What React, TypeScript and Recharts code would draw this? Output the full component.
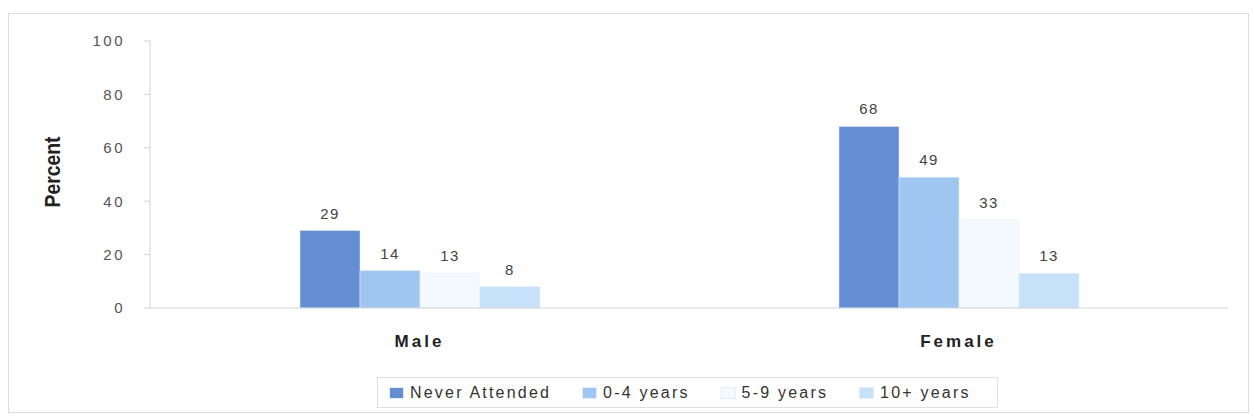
import { Bar, BarChart, LabelList, XAxis, YAxis } from "recharts"

const categories = ["Male", "Female"]
const neverAttended = [29, 68]
const years0to4 = [14, 49]
const years5to9 = [13, 33]
const years10plus = [8, 13]
const yTicks = [0, 20, 40, 60, 80, 100]

const series = [
  { key: "never", name: "Never Attended", color: "#648ed4", values: neverAttended },
  { key: "y04", name: "0-4 years", color: "#9fc5f1", values: years0to4 },
  { key: "y59", name: "5-9 years", color: "#f3f9fe", values: years5to9 },
  { key: "y10", name: "10+ years", color: "#c7e1f8", values: years10plus },
]

const data = categories.map((cat, i) => {
  const row: Record<string, string | number> = { cat }
  series.forEach((s) => {
    row[s.key] = s.values[i]
  })
  return row
})

const font = "'Liberation Sans', Arial, sans-serif"

const App = () => {
  return (
    <div
      style={{
        position: "absolute",
        left: 0,
        top: 0,
        width: 1254,
        height: 420,
        background: "#fff",
        fontFamily: font,
      }}
    >
      <div
        style={{
          position: "absolute",
          left: 8,
          top: 13,
          width: 1241,
          height: 400,
          border: "1px solid #dcdcdc",
          boxSizing: "border-box",
        }}
      />
      <div
        style={{
          position: "absolute",
          left: 53,
          top: 172,
          transform: "translate(-50%, -50%) rotate(-90deg) scaleX(0.88)",
          fontFamily: font,
          fontWeight: "bold",
          fontSize: 22,
          color: "#222",
          whiteSpace: "nowrap",
          lineHeight: 1,
        }}
      >
        Percent
      </div>
      <BarChart
        width={1254}
        height={420}
        data={data}
        margin={{ top: 41, right: 26, left: 0, bottom: 0 }}
        barGap={0}
        style={{ position: "absolute", left: 0, top: 0 }}
      >
        <YAxis
          domain={[0, 100]}
          ticks={yTicks}
          width={150}
          axisLine={{ stroke: "#cfd3d8" }}
          tickLine={{ stroke: "#cfd3d8" }}
          tickSize={6}
          tickMargin={19}
          tick={{ fill: "#555", fontSize: 15, fontFamily: font, letterSpacing: 2.5 }}
        />
        <XAxis
          dataKey="cat"
          height={112}
          axisLine={{ stroke: "#cfd3d8" }}
          tickLine={false}
          tickMargin={21}
          tick={{
            fill: "#222",
            fontSize: 17,
            fontWeight: "bold",
            fontFamily: font,
            letterSpacing: 3,
          }}
        />
        {series.map((s) => (
          <Bar
            key={s.key}
            dataKey={s.key}
            name={s.name}
            fill={s.color}
            stroke="#e4ecf4"
            strokeWidth={0.5}
            barSize={60}
            isAnimationActive={false}
          >
            <LabelList
              dataKey={s.key}
              position="top"
              offset={12}
              fill="#444"
              fontSize={15}
              fontFamily={font}
              style={{ letterSpacing: 1.5 }}
            />
          </Bar>
        ))}
      </BarChart>
      <div
        style={{
          position: "absolute",
          left: 377,
          top: 377,
          width: 621,
          height: 31,
          border: "1px solid #e0e0e0",
          boxSizing: "border-box",
          display: "flex",
          alignItems: "center",
          paddingLeft: 11,
          gap: 31,
          fontSize: 16,
          color: "#333",
          letterSpacing: 2.2,
          whiteSpace: "nowrap",
        }}
      >
        {series.map((s) => (
          <div key={s.key} style={{ display: "flex", alignItems: "center" }}>
            <span
              style={{
                display: "inline-block",
                width: 15,
                height: 12,
                background: s.color,
                border: "1px solid #e4ecf4",
                boxSizing: "border-box",
                marginRight: 6,
              }}
            />
            {s.name}
          </div>
        ))}
      </div>
    </div>
  )
}

export default App
